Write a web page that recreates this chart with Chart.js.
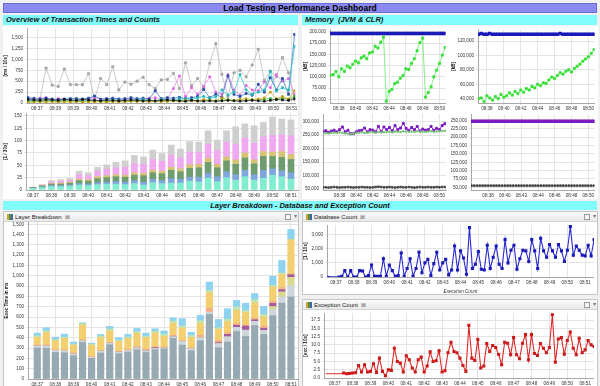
<!DOCTYPE html>
<html>
<head>
<meta charset="utf-8">
<script src="https://cdn.jsdelivr.net/npm/chart.js@4.4.1/dist/chart.umd.min.js"></script>
<style>
  body { margin:0; width:600px; height:386px; overflow:hidden; position:relative; background:#f0f0f0; font-family:'Liberation Sans', Arial, sans-serif; }
  .abs { position:absolute; box-sizing:border-box; }
  #title { left:3px; top:3px; width:594px; height:10px; background:#8a8af0; border:1px solid #6c6cd6; font:bold 8.5px 'Liberation Sans', Arial, sans-serif; line-height:8px; text-align:center; color:#000; }
  .hdr { height:10px; background:#80fcfc; font:italic bold 7.5px 'Liberation Sans', Arial, sans-serif; line-height:10px; color:#111; padding-left:3px; }
  .white { background:#fff; }
  .framed { background:#fff; border:1px solid #c6c6c6; }
  .tab { left:0; top:0; right:0; height:10px; background:linear-gradient(#fcfcfc,#e8e8e8); border-bottom:1px solid #d4d4d4; font:6px 'Liberation Sans', Arial, sans-serif; line-height:10px; color:#222; padding-left:3px; }
  .ico { display:inline-block; width:6px; height:6px; vertical-align:-1px; margin-right:2px; background:linear-gradient(90deg,#c9a43a 0 33%,#5a8a3a 33% 66%,#3a6ab0 66%); }
  .x { margin-left:3px; color:#666; font-size:6px; }
  .btn { top:2px; width:6px; height:6px; border:1px solid #9a9a9a; background:#f6f6f6; }
  .drop { top:0; font-size:6px; color:#777; }
  canvas { position:absolute; }
</style>
</head>
<body>
<div id="title" class="abs">Load Testing Performance Dashboard</div>
<div class="abs hdr" style="left:3px;top:15px;width:295px">Overview of Transaction Times and Counts</div>
<div class="abs hdr" style="left:302px;top:15px;width:295px">Memory&nbsp; (JVM &amp; CLR)</div>
<div class="abs white" style="left:3px;top:26px;width:295px;height:173px"></div>
<div class="abs white" style="left:302px;top:26px;width:296px;height:173px"></div>
<div class="abs hdr" style="left:3px;top:201px;width:594px;height:9px;line-height:9px;text-align:center;padding:0">Layer Breakdown - Database and Exception Count</div>

<div class="abs framed" style="left:3px;top:211px;width:296px;height:176px">
  <div class="abs tab"><span class="ico"></span>Layer Breakdown<span class="x">&#8864;</span></div>
  <div class="abs btn" style="left:281px"></div><div class="abs drop" style="left:290px">&#9662;</div>
</div>
<div class="abs framed" style="left:302px;top:211px;width:296px;height:84px">
  <div class="abs tab"><span class="ico"></span>Database Count<span class="x">&#8864;</span></div>
  <div class="abs btn" style="left:281px"></div><div class="abs drop" style="left:290px">&#9662;</div>
</div>
<div class="abs framed" style="left:302px;top:299px;width:296px;height:88px">
  <div class="abs tab"><span class="ico"></span>Exception Count<span class="x">&#8864;</span></div>
  <div class="abs btn" style="left:281px"></div><div class="abs drop" style="left:290px">&#9662;</div>
</div>

<canvas id="overview"></canvas>
<canvas id="counts"></canvas>
<canvas id="memTL"></canvas>
<canvas id="memTR"></canvas>
<canvas id="memBL"></canvas>
<canvas id="memBR"></canvas>
<canvas id="layers"></canvas>
<canvas id="dbCount"></canvas>
<canvas id="excCount"></canvas>

<script>
// minutes past 08:00 on a regular sampling grid
function timeGrid(start, n, stepSec) {
  const p = start.split(':').map(Number);
  const t0 = (p[0] - 8) * 60 + p[1] + p[2] / 60;
  const out = [];
  for (let i = 0; i < n; i++) out.push(+(t0 + i * stepSec / 60).toFixed(4));
  return out;
}

// ---- tick labels ----
const minuteTicks = [37, 38, 39, 40, 41, 42, 43, 44, 45, 46, 47, 48, 49, 50, 51];
const memMinuteTicks = [38, 40, 42, 44, 46, 48, 50];
const overviewYTicks = [0, 250, 500, 750, 1000, 1250, 1500];
const countsYTicks = [0, 25, 50, 75, 100, 125, 150];
const layersYTicks = [0, 100, 200, 300, 400, 500, 600, 700, 800, 900, 1000, 1100, 1200, 1300, 1400, 1500];
const dbYTicks = [0, 500, 1000, 1500, 2000, 2500, 3000, 3500];
const excYTicks = [0, 2.5, 5, 7.5, 10, 12.5, 15, 17.5];
const memTLTicks = [50000, 75000, 100000, 125000, 150000, 175000, 200000];
const memTRTicks = [40000, 50000, 60000, 70000, 80000, 90000, 100000, 110000, 120000, 130000];
const memBLTicks = [50000, 75000, 100000, 125000, 150000, 175000, 200000, 225000, 250000, 275000, 300000, 325000];
const memBRTicks = [50000, 75000, 100000, 125000, 150000, 175000, 200000, 225000, 250000];

// ---- overview of transaction times [ms / 10s], 20 s samples ----
const overviewTimes = timeGrid('08:36:30', 45, 20);
const respGrey   = [120,110,100,800,410,380,780,420,420,420,670,80,560,420,830,300,480,430,500,590,420,330,530,540,680,330,920,400,560,360,910,1360,660,150,690,750,600,870,1230,520,730,600,1040,690,75];
const respPink   = [100,90,110,120,60,100,90,70,60,80,100,110,80,90,100,80,90,100,70,90,110,120,90,80,330,620,150,350,200,380,600,250,200,650,300,180,400,300,280,480,350,650,500,560,200];
const respBlue   = [120,100,90,110,90,80,90,100,100,90,110,160,90,100,110,90,100,120,100,110,90,280,100,120,110,130,100,120,150,310,120,200,130,620,200,150,220,180,430,250,580,300,560,200,1570];
const respCyan   = [50,60,40,50,60,50,40,60,50,60,70,60,50,60,70,60,50,60,70,80,60,50,80,70,60,100,90,80,120,150,110,140,300,180,250,650,300,200,250,300,720,280,350,300,1300];
const respGreen  = [30,40,30,50,40,30,40,50,40,30,40,50,40,30,40,50,30,40,50,40,30,40,50,40,60,50,40,60,50,60,70,50,60,80,60,70,60,80,70,90,100,80,120,90,150];
const respYellow = [20,20,30,20,30,20,30,20,30,20,30,20,30,20,30,20,30,40,30,40,30,40,30,40,50,40,60,50,40,80,60,50,120,70,60,80,100,70,90,120,250,100,150,90,280];
const respBlack  = [80,70,60,80,70,60,80,70,60,80,70,60,50,70,60,50,60,70,60,50,60,50,60,70,60,50,40,60,50,40,50,40,50,60,50,40,50,60,50,40,60,80,70,60,100];

// ---- transaction counts [1 / 30s] ----
const barTimes = [37,37.5,38,38.5,39,39.5,40,40.5,41,41.5,42,42.5,43,43.5,44,44.5,45,45.5,46,46.5,47,47.5,48,48.5,49,49.5,50,50.5,51];
const cntCyan  = [3,5,7,7,8,10,9,11,12,12,11,13,10,15,13,14,14,18,16,24,17,25,20,27,20,24,30,27,22];
const cntBlue  = [1,1,2,2,2,3,3,4,4,5,5,6,6,7,6,9,8,8,10,10,10,12,11,13,11,16,13,12,13];
const cntGreen = [1,2,3,3,4,6,6,8,9,10,10,11,13,13,14,17,15,18,19,22,18,22,21,25,22,28,25,27,27];
const cntKhaki = [0,1,1,2,2,3,3,4,4,4,4,5,5,5,5,6,6,7,7,8,7,8,9,10,8,10,9,12,10];
const cntPink  = [0,1,3,4,4,9,8,11,13,14,16,18,18,22,20,25,22,26,25,29,28,30,32,30,34,30,34,34,38];
const cntGrey  = [1,1,3,3,3,7,6,8,9,11,13,17,15,19,16,20,18,21,20,27,21,23,35,29,35,29,37,32,32];

// ---- memory [kB] ----
const memTimes  = timeGrid('08:37:00', 42, 20);
const memTimesB = timeGrid('08:36:00', 45, 20);
const jvmCommitted = [196000,196000,196000,196000,196000,196000,196000,196000,196000,196000,196000,196000,196000,196000,196000,196000,196000,196000,196000,196000,196000,196000,196000,196000,196000,196000,196000,196000,196000,196000,196000,196000,196000,196000,196000,196000,196000,196000,196000,196000,196000,196000];
const jvmUsed = [104000,105000,112000,100000,118000,112000,124000,120000,128000,135000,131000,142000,146000,140000,153000,155000,168000,164000,177000,188000,46000,68000,72000,85000,88000,97000,103000,118000,116000,130000,140000,158000,176000,186000,55000,65000,78000,100000,115000,130000,148000,165000];
const clrCommitted = [129500,130500,129500,129500,130500,129500,129500,129500,129500,129500,129500,129500,129500,129500,129500,129500,129500,129500,129500,129500,129500,129500,129500,129500,129500,129500,129500,129500,129500,130500,129500,129500,129500,129500,129500,129500,129500,129500,129500,129500,129500,129500];
const clrUsed = [40000,41000,36000,44000,41000,38000,43000,40000,46000,42000,44000,48000,45000,50000,47000,52000,49000,54000,52000,57000,55000,60000,58000,62000,61000,66000,70000,68000,72000,76000,74000,78000,80000,77000,82000,85000,88000,92000,95000,98000,103000,108000];
const jvmMax   = [262000,266000,260000,265000,268000,262000,270000,280000,262000,268000,255000,255000,262000,266000,268000,276000,262000,270000,268000,262000,282000,263000,280000,270000,278000,266000,285000,270000,276000,293000,275000,268000,278000,270000,282000,265000,272000,268000,270000,282000,268000,275000,270000,285000,292000];
const jvmTotal = [256000,257000,256000,258000,259000,258000,260000,258000,256000,255000,254000,255000,258000,259000,260000,258000,259000,261000,260000,259000,262000,260000,260000,261000,262000,260000,263000,262000,261000,264000,263000,262000,263000,262000,264000,262000,263000,262000,263000,264000,262000,263000,264000,265000,266000];
const jvmFree  = [57000,57000,56000,57000,58000,57000,56000,57000,57000,58000,57000,56000,57000,57000,58000,57000,57000,56000,57000,58000,59000,58000,57000,57000,58000,57000,56000,57000,58000,57000,57000,58000,57000,56000,57000,58000,57000,57000,58000,57000,57000,58000,57000,58000,58000];
const clrMax   = [248000,248000,248000,248000,248000,248000,248000,248000,248000,248000,248000,248000,248000,248000,248000,248000,248000,248000,248000,248000,248000,248000,248000,248000,248000,248000,248000,248000,248000,248000,248000,248000,248000,248000,248000,248000,248000,248000,248000,248000,248000,248000,248000,248000,248000];
const clrFree  = [55000,55000,55000,55000,55000,55000,55000,55000,55000,55000,55000,55000,55000,55000,55000,55000,55000,55000,55000,55000,55000,55000,55000,55000,55000,55000,55000,55000,55000,55000,55000,55000,55000,55000,55000,55000,55000,55000,55000,55000,55000,55000,55000,55000,55000];

// ---- layer breakdown, exec time in ms per 30 s ----
const laySlate     = [300,297,258,255,226,355,200,252,332,245,261,284,258,284,290,394,329,274,371,626,303,358,461,413,519,432,613,735,796];
const layLightGrey = [20,22,18,18,15,15,10,18,15,15,15,18,15,12,10,15,35,20,30,20,40,50,40,60,40,40,60,60,110];
const layKhaki     = [0,0,0,0,0,0,0,0,0,0,0,0,0,0,0,0,0,0,0,0,0,0,0,0,0,0,30,50,80];
const layPurple    = [0,0,0,0,0,0,0,0,0,0,0,0,5,8,0,5,0,0,0,0,10,25,20,40,15,20,30,20,25];
const laySalmon    = [10,12,10,10,12,10,8,7,8,10,10,12,10,8,10,10,10,10,25,40,20,15,15,12,15,20,20,20,10];
const layYellow    = [75,120,85,110,75,145,110,125,110,95,105,130,115,135,105,115,120,100,115,150,110,110,130,120,150,90,140,130,330];
const layPaleGreen = [15,16,10,12,10,10,10,15,20,10,16,16,12,15,20,24,20,18,25,24,14,23,35,20,30,26,14,14,0];
const laySky       = [25,30,25,30,20,10,10,15,25,25,25,30,30,25,30,30,70,30,50,80,80,100,60,70,60,75,90,120,99];

// ---- database / exception counts per 10 s ----
const dbTimes = timeGrid('08:36:30', 91, 10);
const dbCount = [50,30,20,10,0,50,450,0,450,0,0,450,430,0,100,850,50,50,50,1300,50,850,450,50,100,1700,50,600,1300,50,600,1750,300,1000,1250,100,950,1750,500,1000,1250,150,500,2200,500,1850,1350,200,3500,600,900,1800,550,500,2250,600,1400,2200,900,600,2650,1000,1900,2250,550,1300,1900,1850,1100,2650,1850,600,2750,1850,1400,2300,1850,1400,2300,1850,1100,1900,3570,1550,2200,1900,1550,1500,2250,1500,2650];
const excCount = [1.3,1.3,1.3,1.3,1.3,1.3,1.5,1.3,1.4,1.5,1.6,3.8,1.8,4.0,1.8,2.0,4.3,1.7,6.0,2.0,0.7,2.5,2.3,9.0,5.0,4.5,1.8,6.7,5.5,3.0,1.8,5.5,6.3,1.8,3.6,7.9,5.0,5.2,8.2,1.8,2.2,7.6,10.8,8.0,7.6,6.0,3.8,2.0,15.9,6.0,5.3,11.6,3.0,3.6,10.4,8.0,9.8,9.2,7.1,4.0,10.8,10.5,7.0,12.2,7.0,5.8,10.5,13.1,5.5,13.1,7.4,6.8,10.4,9.0,7.6,9.2,19.1,4.8,11.8,12.2,7.2,11.3,13.9,9.0,7.0,12.0,7.6,8.5,11.3,10.0,9.5];

Chart.defaults.font.family = "'Liberation Sans', Arial, sans-serif";
Chart.defaults.font.size = 4.6;
Chart.defaults.color = '#333';
Chart.defaults.animation = false;
Chart.defaults.plugins.legend.display = false;
Chart.defaults.plugins.tooltip.enabled = false;

const fmtMin = v => '08:' + String(v).padStart(2, '0');
const fmtNum = v => v.toLocaleString('en-US');

function xy(times, vals) { return vals.map((v, i) => ({ x: times[i], y: v })); }

function xAxis(ticks, min, max, h, extra) {
  return Object.assign({
    type: 'linear', min: min, max: max, offset: false,
    afterBuildTicks: s => { s.ticks = ticks.map(v => ({ value: v })); },
    afterFit: s => { s.height = h; s.paddingLeft = 0; s.paddingRight = 0; },
    ticks: { autoSkip: false, maxRotation: 0, padding: 1, callback: fmtMin },
    grid: { color: '#e4e4e4', tickLength: 2, offset: false },
    border: { color: '#a8a8a8' }
  }, extra || {});
}

function yAxis(ticks, min, max, w, title, fmt) {
  return {
    min: min, max: max,
    afterBuildTicks: s => { s.ticks = ticks.map(v => ({ value: v })); },
    afterFit: s => { s.width = w; s.paddingTop = 0; s.paddingBottom = 0; },
    ticks: { padding: 2, callback: fmt || fmtNum },
    grid: { color: '#e4e4e4', tickLength: 2 },
    border: { color: '#a8a8a8' },
    title: title ? { display: true, text: title, color: '#111', padding: 0, font: { size: 4.6, weight: 'bold' } } : { display: false }
  };
}

function makeChart(id, plot, yW, xH, type, datasets, scales) {
  const c = document.getElementById(id);
  const padT = 4, padR = 2;
  c.width = Math.round(plot.r - plot.l + yW + padR);
  c.height = Math.round(plot.b - plot.t + padT + xH);
  c.style.left = Math.round(plot.l - yW) + 'px';
  c.style.top = Math.round(plot.t - padT) + 'px';
  return new Chart(c, {
    type: type,
    data: { datasets: datasets },
    options: {
      responsive: false, devicePixelRatio: 1,
      layout: { padding: { top: padT, right: padR, left: 0, bottom: 0 } },
      scales: scales
    }
  });
}

function lineDs(times, vals, color, pointColor, radius, width) {
  return {
    data: xy(times, vals), borderColor: color, backgroundColor: pointColor || color,
    pointBorderColor: pointColor || color, pointBackgroundColor: pointColor || color,
    borderWidth: width || 0.8, pointRadius: radius, pointStyle: 'rect', tension: 0
  };
}

function barDs(times, vals, color) {
  return { data: xy(times, vals), backgroundColor: color, borderWidth: 0, barThickness: 6 };
}

// overview line chart
makeChart('overview', { l: 27, t: 28, r: 298, b: 103 }, 24, 8, 'line', [
  lineDs(overviewTimes, respBlack, '#333333', '#111111', 1.2),
  lineDs(overviewTimes, respYellow, '#d8b030', '#c89a10', 1.2),
  lineDs(overviewTimes, respGreen, '#55cc55', '#22aa22', 1.2),
  lineDs(overviewTimes, respCyan, '#33cccc', '#22b8b8', 1.3),
  lineDs(overviewTimes, respBlue, '#4a78c8', '#2a4ea0', 1.4),
  lineDs(overviewTimes, respPink, '#ee88ee', '#dd66dd', 1.3),
  lineDs(overviewTimes, respGrey, '#bdbdbd', '#a6a6a6', 1.5)
], {
  x: xAxis(minuteTicks, 36.45, 51.2, 8),
  y: yAxis(overviewYTicks, 0, 1700, 24, '[ms / 10s]')
});

// transaction count stacked bars
makeChart('counts', { l: 26, t: 113, r: 298, b: 190 }, 23, 9, 'bar', [
  barDs(barTimes, cntCyan, '#80ecd0'),
  barDs(barTimes, cntBlue, '#7fa6dc'),
  barDs(barTimes, cntGreen, '#6e9c6e'),
  barDs(barTimes, cntKhaki, '#d6c474'),
  barDs(barTimes, cntPink, '#f0a8f0'),
  barDs(barTimes, cntGrey, '#cfcfcf')
], {
  x: xAxis(minuteTicks, 36.62, 51.38, 9, { stacked: true }),
  y: Object.assign(yAxis(countsYTicks, 0, 156, 23, '[1 / 30s]'), { stacked: true })
});

// memory charts
makeChart('memTL', { l: 330, t: 28, r: 449, b: 103 }, 27, 8, 'line', [
  lineDs(memTimes, jvmCommitted, '#2222cc', '#1a1ab8', 1.4, 1.5),
  lineDs(memTimes, jvmUsed, '#66ee66', '#33e033', 1.5, 0.8)
], {
  x: xAxis(memMinuteTicks, 36.95, 50.72, 8),
  y: yAxis(memTLTicks, 42000, 205000, 27, '[kB]')
});

makeChart('memTR', { l: 478, t: 28, r: 598, b: 103 }, 27, 8, 'line', [
  lineDs(memTimes, clrCommitted, '#2222cc', '#1a1ab8', 1.4, 1.5),
  lineDs(memTimes, clrUsed, '#66ee66', '#33e033', 1.5, 0.8)
], {
  x: xAxis(memMinuteTicks, 36.95, 50.72, 8),
  y: yAxis(memTRTicks, 34000, 136000, 27, '[kB]')
});

makeChart('memBL', { l: 323, t: 113, r: 449, b: 190 }, 20, 8, 'line', [
  lineDs(memTimesB, jvmFree, '#555555', '#444444', 1.2, 0.8),
  lineDs(memTimesB, jvmTotal, '#88cc88', '#77c077', 1.0, 0.8),
  lineDs(memTimesB, jvmMax, '#8a2ccc', '#7a1cc0', 1.4, 1.0)
], {
  x: xAxis(memMinuteTicks, 36.0, 50.8, 8),
  y: yAxis(memBLTicks, 47000, 328000, 20, '')
});

makeChart('memBR', { l: 471, t: 113, r: 598, b: 190 }, 20, 8, 'line', [
  lineDs(memTimesB, clrFree, '#555555', '#444444', 1.2, 0.8),
  lineDs(memTimesB, clrMax, '#8a2ccc', '#7a1cc0', 1.4, 1.5)
], {
  x: xAxis(memMinuteTicks, 35.95, 50.75, 8),
  y: yAxis(memBRTicks, 42000, 268000, 20, '')
});

// layer breakdown
function layDs(vals, color) {
  return { data: xy(barTimes, vals), backgroundColor: color, borderWidth: 0, barThickness: 6.5 };
}
makeChart('layers', { l: 28, t: 222, r: 298, b: 379 }, 24, 8, 'bar', [
  layDs(laySlate, '#97a9b2'),
  layDs(layLightGrey, '#cdd7db'),
  layDs(layKhaki, '#d8d88e'),
  layDs(layPurple, '#a45a9c'),
  layDs(laySalmon, '#f2b08a'),
  layDs(layYellow, '#f3cf70'),
  layDs(layPaleGreen, '#bfe3b4'),
  layDs(laySky, '#8dd2ef')
], {
  x: xAxis(minuteTicks, 36.49, 51.39, 8, { stacked: true }),
  y: Object.assign(yAxis(layersYTicks, 0, 1522, 24, 'Exec Time in ms'), { stacked: true })
});

// database count
const db = lineDs(dbTimes, dbCount, '#2a2ad0', '#1a1ab8', 1.4, 1.1);
db.pointRadius = ctx => ctx.dataIndex < 4 ? 0 : 1.4;
makeChart('dbCount', { l: 327, t: 224, r: 597, b: 277 }, 24, 17, 'line', [db], {
  x: xAxis(minuteTicks, 36.5, 51.49, 17, {
    title: { display: true, text: 'Execution Count', color: '#333', padding: { top: 1, bottom: 0 }, font: { size: 4.6, style: 'italic' } }
  }),
  y: yAxis(dbYTicks, 0, 3680, 24, '[1 / 10s]')
});

// exception count
const exc = lineDs(dbTimes, excCount, '#dd2a2a', '#cc1a1a', 1.4, 1.1);
exc.pointRadius = ctx => ctx.dataIndex < 6 ? 0 : 1.4;
makeChart('excCount', { l: 324, t: 312, r: 597, b: 378 }, 21, 8, 'line', [exc], {
  x: xAxis(minuteTicks, 36.4, 51.49, 8),
  y: yAxis(excYTicks, 0, 19.6, 21, '[exc / 10s]', v => v.toFixed(1))
});
</script>
</body>
</html>
